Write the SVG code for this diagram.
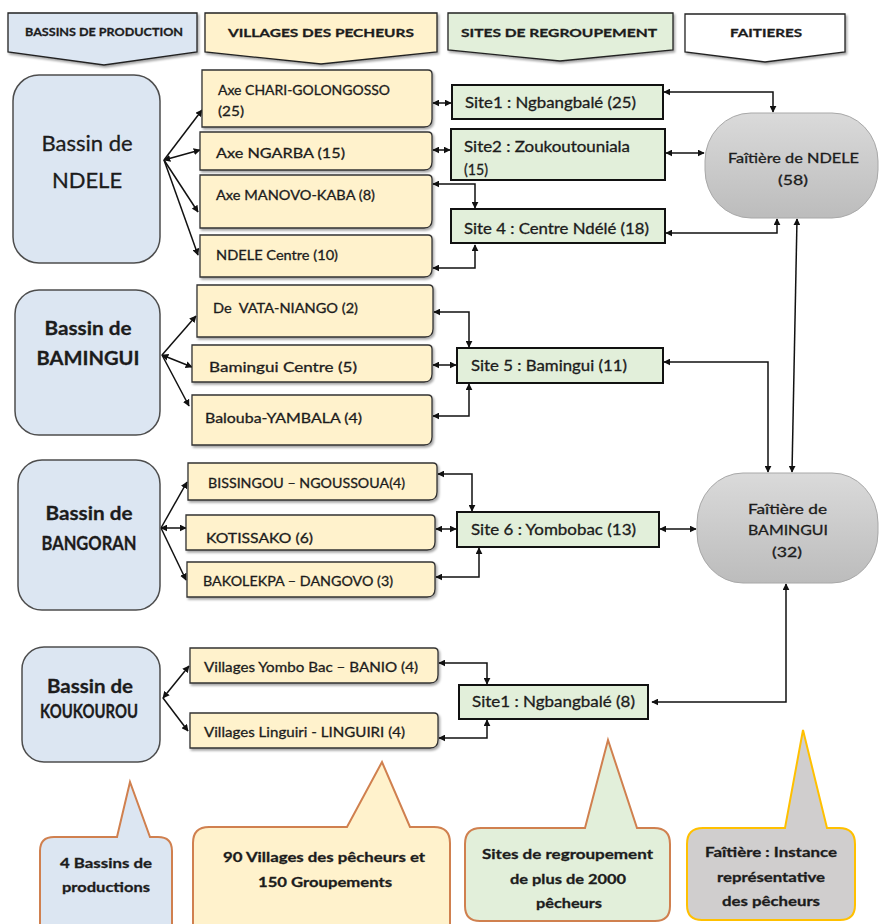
<svg xmlns="http://www.w3.org/2000/svg" width="879" height="924" viewBox="0 0 879 924">
<defs>
<marker id="ah" viewBox="0 0 10 10" refX="9" refY="5" markerWidth="7" markerHeight="7" markerUnits="userSpaceOnUse" orient="auto-start-reverse"><path d="M0,0 L10,5 L0,10 z" fill="#111"/></marker>
<linearGradient id="gray" x1="0" y1="0" x2="0" y2="1"><stop offset="0" stop-color="#dadada"/><stop offset="1" stop-color="#bcbcbc"/></linearGradient>
<filter id="sh" x="-10%" y="-10%" width="130%" height="150%"><feDropShadow dx="1.5" dy="2" stdDeviation="1" flood-color="#000" flood-opacity="0.35"/></filter>
</defs>
<style>
text{font-family:Lato,"Liberation Sans",sans-serif;fill:#1c1c1c;stroke:#1c1c1c;stroke-width:0.3}
.hd{font-weight:bold;font-size:12px}
.bas{fill:#dce6f2;stroke:#4d4d4d;stroke-width:1.5}
.vil{fill:#fff2cc;stroke:#333;stroke-width:1.3;filter:url(#sh)}
.site{fill:#e2efda;stroke:#111;stroke-width:2}
.fai{fill:url(#gray);stroke:#a8a8a8;stroke-width:1}
.hdr{stroke:#222;stroke-width:1.3;filter:url(#sh)}
.c{fill:none;stroke:#111;stroke-width:1.5}
.e{marker-end:url(#ah)}
.b{marker-start:url(#ah);marker-end:url(#ah)}
.v{font-size:14px}
.s{font-size:15px}
.f{font-size:14px}
.bt1{font-size:22px}
.bt{font-size:19px;font-weight:bold}
.co{font-size:13.5px;font-weight:bold}
.cal{stroke-width:2}
</style>

<g id="headers">
<g id="hdr-bassins"><path class="hdr" d="M8,13 H197 V52 L104,65 L8,52 Z" fill="#dce6f2"/><text class="hd" x="25" y="36" font-size="11" textLength="158" lengthAdjust="spacingAndGlyphs">BASSINS DE PRODUCTION</text></g>
<g id="hdr-villages"><path class="hdr" d="M205,13 H437 V52 L321,64 L205,52 Z" fill="#fff2cc"/><text class="hd" x="228" y="37" font-size="13" textLength="186" lengthAdjust="spacingAndGlyphs">VILLAGES DES PECHEURS</text></g>
<g id="hdr-sites"><path class="hdr" d="M448,13 H673 V50 L560,61 L448,50 Z" fill="#e2efda"/><text class="hd" x="461" y="37" font-size="13" textLength="196" lengthAdjust="spacingAndGlyphs">SITES DE REGROUPEMENT</text></g>
<g id="hdr-faitieres"><path class="hdr" d="M685,14 H845 V52 L765,62 L685,52 Z" fill="#ffffff"/><text class="hd" x="730" y="37" font-size="13" textLength="72" lengthAdjust="spacingAndGlyphs">FAITIERES</text></g>
</g>

<g id="connectors">
<line class="c e" x1="164" y1="160" x2="202" y2="110"/>
<line class="c b" x1="164" y1="160" x2="200" y2="150"/>
<line class="c e" x1="164" y1="160" x2="198" y2="212"/>
<line class="c e" x1="164" y1="160" x2="198" y2="255"/>
<line class="c e" x1="162" y1="355" x2="196" y2="316"/>
<line class="c b" x1="162" y1="355" x2="192" y2="367"/>
<line class="c e" x1="162" y1="355" x2="189" y2="406"/>
<line class="c e" x1="161" y1="528" x2="187" y2="482"/>
<line class="c b" x1="161" y1="528" x2="186" y2="528"/>
<line class="c e" x1="161" y1="528" x2="186" y2="580"/>
<line class="c b" x1="163" y1="698" x2="189" y2="666"/>
<line class="c e" x1="163" y1="698" x2="188" y2="731"/>

<path class="c b" d="M433,103 H451"/>
<path class="c b" d="M433,150 H450"/>
<path class="c b" d="M433,184 H475 V208"/>
<path class="c b" d="M433,268 H475 V245"/>
<path class="c b" d="M434,312 H469 V347"/>
<path class="c b" d="M433,365 H456"/>
<path class="c b" d="M433,416 H469 V384"/>
<path class="c b" d="M438,474 H472 V511"/>
<path class="c b" d="M436,529 H456"/>
<path class="c b" d="M436,577 H479 V548"/>
<path class="c b" d="M439,663 H487 V684"/>
<path class="c b" d="M439,738 H487 V720"/>

<path class="c b" d="M664,92 H773 V112"/>
<path class="c b" d="M666,153 H704"/>
<path class="c b" d="M666,233 H777 V219"/>
<path class="c b" d="M797,219 L792,472"/>
<path class="c b" d="M664,362 H768 V472"/>
<path class="c b" d="M660,529 H696"/>
<path class="c b" d="M652,702 H786 V584"/>
</g>

<g id="basin-ndele"><rect class="bas" x="13" y="75" width="147" height="188" rx="26"/><text class="bt1" x="87" y="151" text-anchor="middle">Bassin de</text><text class="bt1" x="87" y="188" text-anchor="middle">NDELE</text></g>
<g id="basin-bamingui"><rect class="bas" x="15" y="290" width="145" height="145" rx="24"/><text class="bt" x="88" y="335" text-anchor="middle" textLength="87" lengthAdjust="spacingAndGlyphs">Bassin de</text><text class="bt" x="88" y="365" text-anchor="middle" textLength="103" lengthAdjust="spacingAndGlyphs">BAMINGUI</text></g>
<g id="basin-bangoran"><rect class="bas" x="18" y="460" width="142" height="150" rx="24"/><text class="bt" x="89" y="520" text-anchor="middle" textLength="87" lengthAdjust="spacingAndGlyphs">Bassin de</text><text class="bt" x="89" y="550" text-anchor="middle" font-size="16" textLength="95" lengthAdjust="spacingAndGlyphs">BANGORAN</text></g>
<g id="basin-koukourou"><rect class="bas" x="22" y="647" width="138" height="115" rx="22"/><text class="bt" x="90" y="693" text-anchor="middle" textLength="86" lengthAdjust="spacingAndGlyphs">Bassin de</text><text class="bt" x="89" y="718" text-anchor="middle" font-size="14" textLength="98" lengthAdjust="spacingAndGlyphs">KOUKOUROU</text></g>

<g id="v-chari"><path class="vil" d="M202,70 H428 Q432,70 432,74 V119 Q432,127 424,127 H202 Z"/><text class="v" x="218" y="95" font-size="13" textLength="172" lengthAdjust="spacingAndGlyphs">Axe CHARI-GOLONGOSSO</text><text class="v" x="218" y="116" textLength="26" lengthAdjust="spacingAndGlyphs">(25)</text></g>
<g id="v-ngarba"><path class="vil" d="M200,132 H428 Q432,132 432,136 V162 Q432,170 424,170 H200 Z"/><text class="v" x="216" y="158" textLength="129" lengthAdjust="spacingAndGlyphs">Axe NGARBA (15)</text></g>
<g id="v-manovo"><path class="vil" d="M200,175 H428 Q432,175 432,179 V220 Q432,228 424,228 H200 Z"/><text class="v" x="216" y="200" textLength="159" lengthAdjust="spacingAndGlyphs">Axe MANOVO-KABA (8)</text></g>
<g id="v-ndele-centre"><path class="vil" d="M200,235 H428 Q432,235 432,239 V269 Q432,277 424,277 H200 Z"/><text class="v" x="216" y="260" textLength="122" lengthAdjust="spacingAndGlyphs">NDELE Centre (10)</text></g>
<g id="v-vata"><path class="vil" d="M197,285 H429 Q433,285 433,289 V329 Q433,337 425,337 H197 Z"/><text class="v" x="213" y="313" textLength="145" lengthAdjust="spacingAndGlyphs" xml:space="preserve">De  VATA-NIANGO (2)</text></g>
<g id="v-bamingui-centre"><path class="vil" d="M192,345 H428 Q432,345 432,349 V374 Q432,382 424,382 H192 Z"/><text class="v" x="209" y="372" textLength="148" lengthAdjust="spacingAndGlyphs">Bamingui Centre (5)</text></g>
<g id="v-balouba"><path class="vil" d="M192,395 H428 Q432,395 432,399 V437 Q432,445 424,445 H192 Z"/><text class="v" x="205" y="423" textLength="157" lengthAdjust="spacingAndGlyphs">Balouba-YAMBALA (4)</text></g>
<g id="v-bissingou"><path class="vil" d="M188,463 H433 Q437,463 437,467 V492 Q437,500 429,500 H188 Z"/><text class="v" x="208" y="488" textLength="197" lengthAdjust="spacingAndGlyphs">BISSINGOU – NGOUSSOUA(4)</text></g>
<g id="v-kotissako"><path class="vil" d="M186,515 H431 Q435,515 435,519 V542 Q435,550 427,550 H186 Z"/><text class="v" x="206" y="543" textLength="107" lengthAdjust="spacingAndGlyphs">KOTISSAKO (6)</text></g>
<g id="v-bakolekpa"><path class="vil" d="M187,562 H431 Q435,562 435,566 V589 Q435,597 427,597 H187 Z"/><text class="v" x="203" y="586" textLength="190" lengthAdjust="spacingAndGlyphs">BAKOLEKPA – DANGOVO (3)</text></g>
<g id="v-yombo"><path class="vil" d="M190,648 H434 Q438,648 438,652 V675 Q438,683 430,683 H190 Z"/><text class="v" x="204" y="672" textLength="214" lengthAdjust="spacingAndGlyphs">Villages Yombo Bac – BANIO (4)</text></g>
<g id="v-linguiri"><path class="vil" d="M190,713 H434 Q438,713 438,717 V740 Q438,748 430,748 H190 Z"/><text class="v" x="204" y="737" textLength="201" lengthAdjust="spacingAndGlyphs">Villages Linguiri - LINGUIRI (4)</text></g>

<g id="s-site1"><rect class="site" x="452" y="85" width="211" height="34"/><text class="s" x="465" y="108" textLength="171" lengthAdjust="spacingAndGlyphs">Site1 : Ngbangbalé (25)</text></g>
<g id="s-site2"><rect class="site" x="451" y="129" width="214" height="51"/><text class="s" x="464" y="152" textLength="166" lengthAdjust="spacingAndGlyphs">Site2 : Zoukoutouniala</text><text class="s" x="464" y="175" textLength="24" lengthAdjust="spacingAndGlyphs">(15)</text></g>
<g id="s-site4"><rect class="site" x="451" y="209" width="214" height="34"/><text class="s" x="464" y="234" textLength="185" lengthAdjust="spacingAndGlyphs">Site 4 : Centre Ndélé (18)</text></g>
<g id="s-site5"><rect class="site" x="457" y="348" width="206" height="35"/><text class="s" x="471" y="371" textLength="156" lengthAdjust="spacingAndGlyphs">Site 5 : Bamingui (11)</text></g>
<g id="s-site6"><rect class="site" x="457" y="512" width="202" height="35"/><text class="s" x="471" y="535" textLength="165" lengthAdjust="spacingAndGlyphs">Site 6 : Yombobac (13)</text></g>
<g id="s-site1b"><rect class="site" x="459" y="685" width="189" height="34"/><text class="s" x="472" y="707" textLength="163" lengthAdjust="spacingAndGlyphs">Site1 : Ngbangbalé (8)</text></g>

<g id="f-ndele"><rect class="fai" x="705" y="113" width="173" height="105" rx="46" ry="48"/><text class="f" x="728" y="163" textLength="131" lengthAdjust="spacingAndGlyphs">Faîtière de NDELE</text><text class="f" x="778" y="185" textLength="30" lengthAdjust="spacingAndGlyphs">(58)</text></g>
<g id="f-bamingui"><rect class="fai" x="697" y="473" width="181" height="110" rx="46" ry="50"/><text class="f" x="748" y="514" textLength="79" lengthAdjust="spacingAndGlyphs">Faîtière de</text><text class="f" x="748" y="535" textLength="80" lengthAdjust="spacingAndGlyphs">BAMINGUI</text><text class="f" x="772" y="557" textLength="30" lengthAdjust="spacingAndGlyphs">(32)</text></g>

<g id="callouts">
<g id="c-bassins"><path class="cal" d="M54,837 H117 L130,782 L150,837 H158 Q172,837 172,851 V936 H40 V851 Q40,837 54,837 Z" fill="#dce6f2" stroke="#d0804f"/><text class="co" x="60" y="868" textLength="92" lengthAdjust="spacingAndGlyphs">4 Bassins de</text><text class="co" x="62" y="892" textLength="88" lengthAdjust="spacingAndGlyphs">productions</text></g>
<g id="c-villages"><path class="cal" d="M209,827 H347 L382,762 L410,827 H434 Q450,827 450,843 V936 H193 V843 Q193,827 209,827 Z" fill="#fff2cc" stroke="#d0804f"/><text class="co" x="223" y="862" textLength="202" lengthAdjust="spacingAndGlyphs">90 Villages des pêcheurs et</text><text class="co" x="258" y="887" textLength="134" lengthAdjust="spacingAndGlyphs">150 Groupements</text></g>
<g id="c-sites"><path class="cal" d="M481,828 H585 L608,740 L637,828 H654 Q670,828 670,844 V906 Q670,921 655,921 H480 Q465,921 465,906 V844 Q465,828 481,828 Z" fill="#e2efda" stroke="#d0804f"/><text class="co" x="482" y="859" textLength="171" lengthAdjust="spacingAndGlyphs">Sites de regroupement</text><text class="co" x="510" y="884" textLength="116" lengthAdjust="spacingAndGlyphs">de plus de 2000</text><text class="co" x="536" y="908" textLength="66" lengthAdjust="spacingAndGlyphs">pêcheurs</text></g>
<g id="c-faitiere"><path class="cal" d="M703,828 H785 L803,730 L827,828 H839 Q855,828 855,844 V905 Q855,920 840,920 H702 Q687,920 687,905 V844 Q687,828 703,828 Z" fill="#d0cece" stroke="#ffc000"/><text class="co" x="705" y="857" textLength="132" lengthAdjust="spacingAndGlyphs">Faîtière : Instance</text><text class="co" x="717" y="882" textLength="108" lengthAdjust="spacingAndGlyphs">représentative</text><text class="co" x="722" y="906" textLength="98" lengthAdjust="spacingAndGlyphs">des pêcheurs</text></g>
</g>
</svg>
